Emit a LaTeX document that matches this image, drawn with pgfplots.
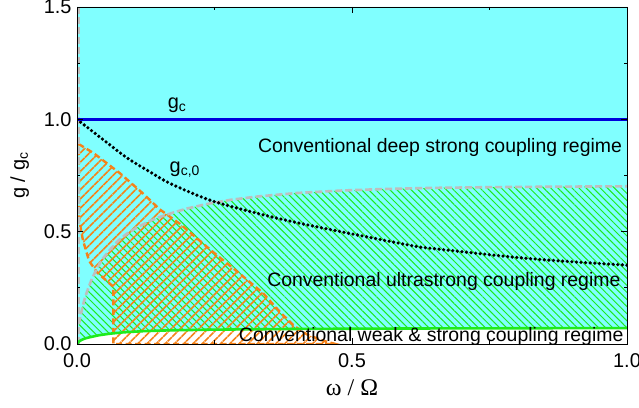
\documentclass[border=0pt]{standalone}
\usepackage{pgfplots}
\pgfplotsset{compat=1.18}
\usepackage{pgfplotstable}
\usepgfplotslibrary{fillbetween}
\usetikzlibrary{patterns.meta}
\usepackage{fontspec}
\setmainfont{Liberation Sans}
\newfontfamily\timesfont{Liberation Serif}

\definecolor{regcyan}{RGB}{128,255,255}
\definecolor{reggreen}{RGB}{30,235,30}
\definecolor{regorange}{RGB}{245,130,25}
\definecolor{reggray}{RGB}{190,190,190}
\definecolor{gcblue}{RGB}{0,0,220}

% upper boundary of the ultrastrong coupling regime
\pgfplotstableread{
x g
0 0
0.001 0.04
0.003 0.08
0.006 0.12
0.01 0.165
0.015 0.21
0.02 0.245
0.027 0.29
0.036 0.335
0.047 0.38
0.06 0.42
0.075 0.46
0.09 0.49
0.11 0.52
0.13 0.545
0.15 0.565
0.175 0.585
0.2 0.603
0.24 0.625
0.28 0.642
0.33 0.657
0.4 0.672
0.48 0.683
0.56 0.69
0.65 0.695
0.75 0.698
0.85 0.70
1.0 0.702
}\usclimit

% boundary between weak/strong and ultrastrong coupling
\pgfplotstableread{
x g
0 0
0.003 0.01
0.008 0.018
0.015 0.025
0.025 0.031
0.04 0.039
0.06 0.046
0.085 0.052
0.12 0.057
0.17 0.061
0.25 0.064
0.4 0.067
0.6 0.069
0.8 0.070
1.0 0.071
}\sclimit

% critical coupling g_{c,0}
\pgfplotstableread{
x g
0 1.0
0.05 0.905
0.09 0.83
0.13 0.77
0.169 0.715
0.242 0.64
0.327 0.582
0.4 0.54
0.5 0.49
0.624 0.431
0.673 0.418
0.8 0.385
0.9 0.366
1.0 0.351
}\gcnull

\pgfplotstableread{
x g
0 1.5
1 1.5
}\topedge

\begin{document}
\begin{tikzpicture}
\begin{axis}[
  scale only axis, width=550bp, height=337bp,
  xmin=0, xmax=1, ymin=0, ymax=1.5,
  xtick={0,0.5,1}, ytick={0,0.5,1,1.5},
  minor tick num=1,
  tick align=inside,
  major tick length=6bp, minor tick length=3.5bp,
  tick style={black, line width=0.8bp},
  axis line style={line width=0.9bp},
  axis on top,
  clip mode=individual,
  tick label style={font=\fontsize{20}{24}\selectfont},
  x tick label style={yshift=-6bp},
  y tick label style={xshift=-2bp},
  /pgf/number format/fixed,
  /pgf/number format/fixed zerofill,
  /pgf/number format/precision=1,
  /pgf/number format/assume math mode=true,
  xlabel={\timesfont ω / Ω},
  xlabel style={font=\fontsize{24}{28}\selectfont, yshift=-5bp},
  ylabel={g / g\textsubscript{c}},
  ylabel style={font=\fontsize{20}{24}\selectfont, yshift=8bp},
]
% boundary paths
\addplot[draw=none, name path=usc, forget plot] table {\usclimit};
\addplot[draw=none, name path=sc, forget plot] table {\sclimit};
\addplot[draw=none, name path=top, forget plot] table {\topedge};

% deep strong coupling regime
\addplot[fill=regcyan, draw=none] fill between[of=sc and top];
% ultrastrong coupling regime
\addplot[draw=none, pattern={Lines[angle=-45, distance=5bp, line width=1bp]},
  pattern color=reggreen] fill between[of=sc and usc];

% orange hatched region
\addplot[draw=regorange, line width=2.4bp, dash pattern=on 6bp off 3.5bp,
  pattern={Lines[angle=45, distance=6.5bp, line width=1.6bp]}, pattern color=regorange]
  coordinates {
  (0.003,0.89) (0.03,0.85) (0.078,0.76) (0.12,0.67) (0.15,0.60) (0.187,0.535)
  (0.247,0.41) (0.29,0.325) (0.338,0.227) (0.37,0.14) (0.395,0.08) (0.42,0.04)
  (0.45,0.013) (0.47,0.0) (0.066,0.0) (0.066,0.255) (0.036,0.32) (0.022,0.37)
  (0.011,0.46) (0.004,0.55) (0.003,0.89)};

% boundary lines
\addplot[reggray, line width=2.6bp, dash pattern=on 7bp off 3bp] table {\usclimit};
\addplot[reggray, line width=2bp, dash pattern=on 7bp off 3bp] coordinates {(0.004,0) (0.004,1.5)};
\addplot[reggreen, line width=2.6bp] table {\sclimit};
\addplot[black, line width=3.6bp, dash pattern=on 0bp off 4.6bp, line cap=round, smooth] table {\gcnull};
\addplot[gcblue, line width=2.8bp] coordinates {(0,1) (1,1)};

\node[anchor=base, font=\fontsize{20}{24}\selectfont] at (axis cs:0.182,1.047) {g\textsubscript{c}};
\node[anchor=base, font=\fontsize{20}{24}\selectfont] at (axis cs:0.196,0.764) {g\textsubscript{c,0}};
\node[anchor=base, font=\fontsize{19.5}{23}\selectfont] at (axis cs:0.66,0.853) {Conventional deep strong coupling regime};
\node[anchor=base, font=\fontsize{19.5}{23}\selectfont] at (axis cs:0.667,0.258) {Conventional ultrastrong coupling regime};
\node[anchor=base, font=\fontsize{19.5}{23}\selectfont] at (axis cs:0.644,0.013) {Conventional weak \& strong coupling regime};

\coordinate (pSW) at (rel axis cs:0,0);
\coordinate (pNE) at (rel axis cs:1,1);
\end{axis}
\pgfresetboundingbox
\path[use as bounding box] ([shift={(-77bp,-64bp)}]pSW) rectangle ([shift={(12bp,7bp)}]pNE);
\end{tikzpicture}
\end{document}
